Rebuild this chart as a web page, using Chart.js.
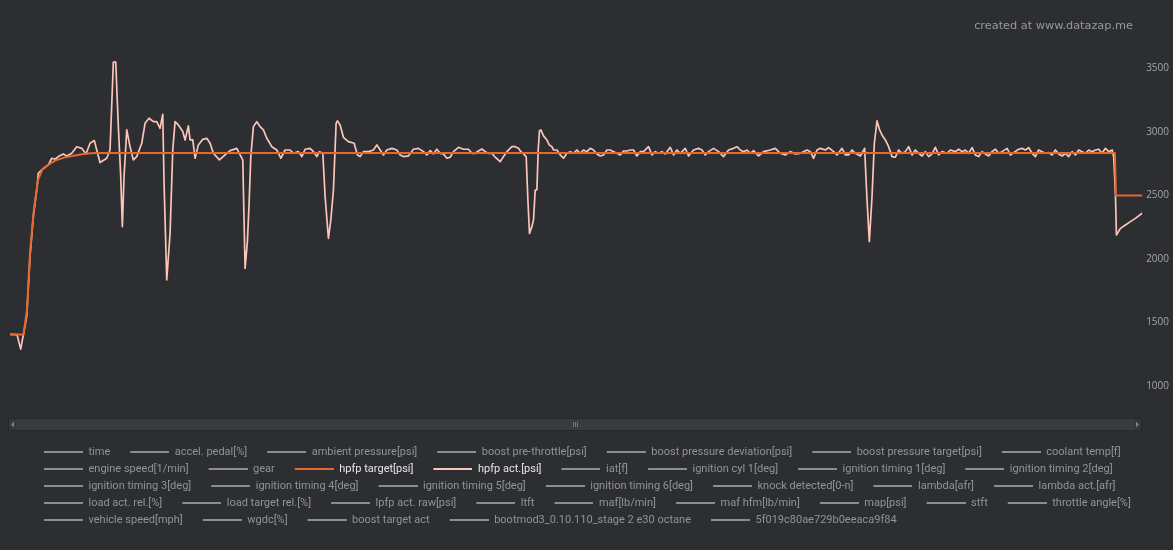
<!DOCTYPE html>
<html>
<head>
<meta charset="utf-8">
<script src="https://cdn.jsdelivr.net/npm/chart.js@4.4.1/dist/chart.umd.min.js"></script>
<style>
html,body{margin:0;padding:0;background:#2d2e32;}
canvas{display:block;}
</style>
</head>
<body>
<canvas id="c" width="1173" height="550" style="width:1173px;height:550px"></canvas>
<script>
// ---------- data ----------
const seriesNames = [
  'time','accel. pedal[%]','ambient pressure[psi]','boost pre-throttle[psi]','boost pressure deviation[psi]',
  'boost pressure target[psi]','coolant temp[f]','engine speed[1/min]','gear','hpfp target[psi]','hpfp act.[psi]',
  'iat[f]','ignition cyl 1[deg]','ignition timing 1[deg]','ignition timing 2[deg]','ignition timing 3[deg]',
  'ignition timing 4[deg]','ignition timing 5[deg]','ignition timing 6[deg]','knock detected[0-n]','lambda[afr]',
  'lambda act.[afr]','load act. rel.[%]','load target rel.[%]','lpfp act. raw[psi]','ltft','maf[lb/min]',
  'maf hfm[lb/min]','map[psi]','stft','throttle angle[%]','vehicle speed[mph]','wgdc[%]','boost target act',
  'bootmod3_0.10.110_stage 2 e30 octane','5f019c80ae729b0eeaca9f84'
];

// hpfp act. [psi] : time (s) and value
const actTime = [
  0,0.7,1.07,1.33,1.67,2.0,2.33,2.67,2.83,3.17,3.5,3.83,4.17,4.5,4.83,5.33,5.67,6.17,6.67,7.17,
  7.6,8.0,8.43,8.67,9.0,9.67,10.0,10.33,10.57,10.83,11.07,11.23,11.4,11.67,12.0,12.33,12.67,13.17,13.5,13.9,
  14.33,14.67,15.0,15.27,15.4,15.67,16.0,16.27,16.5,16.83,17.27,17.5,17.83,18.0,18.27,18.5,18.83,19.27,19.67,20.0,
  20.33,20.93,21.5,22.0,22.67,23.0,23.27,23.5,23.73,23.9,24.07,24.33,24.67,25.0,25.33,25.67,26.17,26.67,27.07,27.5,
  28.0,28.33,28.83,29.17,29.5,30.0,30.33,30.67,30.93,31.27,31.5,31.83,32.07,32.33,32.6,32.73,33.0,33.33,33.83,34.4,
  34.73,35.0,35.33,35.83,36.33,36.67,37.0,37.33,37.67,38.17,38.67,
  39.0,39.33,39.83,40.33,40.83,41.33,41.67,42.0,42.33,42.67,43.0,43.33,43.67,44.0,44.33,44.83,45.33,45.83,46.17,46.5,
  46.83,47.17,47.5,47.83,48.17,48.5,49.0,49.33,49.67,50.17,50.5,50.83,51.07,51.33,51.6,51.77,51.93,52.17,52.33,52.5,
  52.67,52.8,52.93,53.07,53.33,53.67,53.9,54.17,54.33,54.67,55.0,55.33,55.67,56.0,56.33,56.67,57.0,57.33,57.67,58.0,
  58.33,58.67,59.0,59.33,59.67,60.0,60.33,60.67,61.0,61.33,61.67,62.0,62.33,62.67,63.0,63.33,63.83,64.17,64.5,64.83,
  65.17,65.5,66.0,66.33,66.67,67.0,67.5,67.83,68.33,68.83,69.17,69.5,69.83,70.33,70.83,71.33,71.83,72.33,72.67,73.0,
  73.33,73.67,74.0,74.33,74.83,75.33,76.0,76.5,77.0,77.5,78.0,78.5,
  79.0,79.33,79.67,80.0,80.33,80.67,81.0,81.5,81.83,82.33,82.67,83.17,83.5,83.83,84.17,84.5,85.0,85.43,85.67,85.9,
  86.17,86.4,86.67,86.93,87.17,87.5,87.83,88.17,88.5,88.83,89.17,89.5,89.83,90.17,90.5,90.83,91.17,91.5,91.83,92.17,
  92.5,92.83,93.17,93.67,94.0,94.5,94.83,95.17,95.5,95.83,96.17,96.5,96.83,97.17,97.5,97.83,98.17,98.5,98.83,99.17,
  99.67,100.0,100.33,100.83,101.17,101.5,101.83,102.17,102.5,102.83,103.17,103.5,103.83,104.17,104.5,104.83,105.17,105.5,105.83,106.17,
  106.5,106.83,107.17,107.5,107.83,108.17,108.5,108.83,109.17,109.5,109.83,110.17,110.33,110.5,110.6,111.0,111.5,112.0,112.5,113.17
];
const actPsi = [
  1407,1405,1291,1402,1546,2018,2333,2543,2675,2701,2722,2740,2793,2785,2806,2827,2811,2832,2884,2871,
  2827,2911,2932,2858,2759,2793,2858,3549,3549,3042,2648,2255,2648,3016,2884,2780,2806,2911,3068,3108,
  3081,3081,3029,3139,2596,1835,2202,2858,3081,3055,3003,2937,3047,2937,2937,2793,2898,2942,2950,2911,
  2832,2780,2819,2853,2871,2819,2780,1926,2136,2438,2806,3042,3081,3042,3016,2950,2884,2858,2793,2858,
  2858,2832,2845,2806,2864,2871,2845,2806,2845,2832,2491,2163,2307,2543,3068,3087,3055,2958,2924,2911,
  2819,2806,2845,2845,2858,2898,2858,2819,2858,2871,2858,
  2819,2806,2811,2864,2871,2845,2819,2853,2827,2864,2832,2827,2793,2801,2845,2879,2864,2864,2832,2832,
  2850,2866,2845,2832,2832,2801,2766,2806,2845,2884,2884,2871,2845,2827,2806,2465,2202,2255,2307,2543,
  2543,2858,3010,3016,2969,2937,2898,2884,2858,2858,2819,2793,2832,2845,2832,2858,2832,2858,2845,2871,
  2858,2827,2811,2819,2858,2858,2845,2832,2819,2850,2850,2858,2858,2811,2845,2845,2884,2819,2845,2832,
  2845,2827,2879,2819,2858,2832,2871,2811,2858,2871,2858,2819,2845,2871,2845,2806,2858,2871,2884,2858,
  2845,2858,2832,2853,2811,2845,2858,2871,2832,2819,2845,2827,
  2832,2845,2858,2845,2793,2858,2871,2858,2877,2845,2819,2871,2819,2819,2858,2832,2811,2871,2465,2136,
  2491,2911,3087,3016,2976,2937,2884,2806,2801,2858,2832,2845,2884,2819,2858,2832,2811,2845,2806,2827,
  2879,2819,2845,2832,2858,2845,2864,2845,2858,2832,2877,2819,2806,2845,2827,2811,2845,2864,2832,2845,
  2871,2819,2837,2864,2871,2858,2877,2832,2806,2858,2845,2832,2837,2819,2858,2827,2811,2832,2806,2845,
  2819,2858,2845,2832,2858,2845,2858,2864,2832,2871,2845,2858,2806,2517,2189,2241,2268,2294,2320,2360
];

// hpfp target [psi] : time (s) and value
const targetTime = [0,1.35,1.7,2.0,2.4,2.8,3.2,3.8,4.5,5.5,6.5,7.5,8.5,110.45,110.55,113.17];
const targetPsi  = [1405,1405,1600,2050,2400,2620,2700,2740,2775,2800,2815,2828,2835,2835,2500,2500];

const yTickValues = [1000,1500,2000,2500,3000,3500];
const creditText = 'created at www.datazap.me';

// ---------- styling ----------
const LEGEND_GRAY = '#8b8d91';
const LEGEND_TEXT = '#909398';
const TARGET_COLOR = '#e4692d';
const ACT_COLOR = '#fbc5b8';

function swatch(color) {
  const c = document.createElement('canvas');
  c.width = 53; c.height = 2;
  const g = c.getContext('2d');
  g.fillStyle = color;
  g.fillRect(14, 0, 39, 2);
  return c;
}
const swatches = { gray: swatch(LEGEND_GRAY), target: swatch(TARGET_COLOR), act: swatch(ACT_COLOR) };

const toPoints = (xs, ys) => xs.map((x, i) => ({ x: x, y: ys[i] }));

const datasets = seriesNames.map(name => {
  if (name === 'hpfp target[psi]') {
    return { label: name, data: toPoints(targetTime, targetPsi), borderColor: TARGET_COLOR, borderWidth: 2, legendKey: 'target', legendText: '#e6e6e6' };
  }
  if (name === 'hpfp act.[psi]') {
    return { label: name, data: toPoints(actTime, actPsi), borderColor: ACT_COLOR, borderWidth: 1.7, legendKey: 'act', legendText: '#e6e6e6' };
  }
  return { label: name, data: [], borderColor: LEGEND_GRAY, borderWidth: 1.5, legendKey: 'gray', legendText: LEGEND_TEXT };
});

const legendOffset = { id: 'legendOffset', afterLayout(chart) { const lg = chart.legend; if (lg) { lg.left += 14; lg.right += 14; } } };

const credits = {
  id: 'credits',
  afterDraw(chart) {
    const ctx = chart.ctx;
    ctx.save();
    ctx.font = '11.3px "DejaVu Sans"';
    ctx.fillStyle = '#96989d';
    ctx.textAlign = 'right';
    ctx.textBaseline = 'middle';
    ctx.fillText(creditText, chart.width - 40, 26);
    ctx.restore();
  }
};

const scrollbar = {
  id: 'scrollbar',
  afterDraw(chart) {
    const ctx = chart.ctx, ca = chart.chartArea, xs = chart.scales.x;
    const top = Math.round(xs.top + 6), h = 13;
    const left = Math.round(ca.left) - 2, right = Math.round(ca.right);
    ctx.save();
    ctx.fillStyle = '#25272b';
    ctx.fillRect(left, top, right - left, h);
    ctx.fillStyle = '#383b40';
    ctx.fillRect(left + 1, top + 1, right - left - 2, h - 2);
    ctx.fillStyle = '#33363a';
    ctx.fillRect(left + 1, top + 1, 7, h - 2);
    ctx.fillRect(right - 8, top + 1, 7, h - 2);
    ctx.fillStyle = '#7d8085';
    ctx.beginPath(); ctx.moveTo(left + 3, top + h / 2); ctx.lineTo(left + 6, top + 3.5); ctx.lineTo(left + 6, top + h - 3.5); ctx.closePath(); ctx.fill();
    ctx.beginPath(); ctx.moveTo(right - 3, top + h / 2); ctx.lineTo(right - 6, top + 3.5); ctx.lineTo(right - 6, top + h - 3.5); ctx.closePath(); ctx.fill();
    const cx = Math.round((left + right) / 2);
    ctx.strokeStyle = '#74777c'; ctx.lineWidth = 1;
    for (let i = -1; i <= 1; i++) {
      ctx.beginPath(); ctx.moveTo(cx + i * 2 + 0.5, top + 4); ctx.lineTo(cx + i * 2 + 0.5, top + h - 4); ctx.stroke();
    }
    ctx.restore();
  }
};

Chart.defaults.font.family = 'Roboto';

new Chart(document.getElementById('c'), {
  type: 'line',
  data: { datasets: datasets },
  plugins: [legendOffset, credits, scrollbar],
  options: {
    responsive: false,
    devicePixelRatio: 1,
    animation: false,
    events: [],
    layout: { padding: { left: 10, right: 0, top: 43, bottom: 14.5 } },
    elements: {
      point: { radius: 0 },
      line: { tension: 0, borderJoinStyle: 'round', borderCapStyle: 'round', fill: false }
    },
    scales: {
      x: {
        type: 'linear', min: 0, max: 113.17,
        grid: { display: false, drawTicks: false },
        border: { display: false },
        ticks: { display: false },
        afterFit: (axis) => { axis.height = 29; }
      },
      y: {
        position: 'right', min: 800, max: 3700,
        grid: { display: false, drawTicks: false },
        border: { display: false },
        afterBuildTicks: (axis) => { axis.ticks = yTickValues.map(v => ({ value: v })); },
        ticks: {
          padding: 4,
          color: '#a3a5aa',
          font: { family: '"Open Sans"', size: 10 },
          callback: (v) => String(v)
        }
      }
    },
    plugins: {
      tooltip: { enabled: false },
      legend: {
        position: 'bottom',
        align: 'start',
        labels: {
          usePointStyle: true,
          pointStyleWidth: 53,
          padding: 6,
          font: { family: 'Roboto', size: 11 },
          generateLabels: (chart) => chart.data.datasets.map((ds, i) => ({
            text: ds.label,
            datasetIndex: i,
            hidden: false,
            pointStyle: swatches[ds.legendKey],
            fontColor: ds.legendText,
            fillStyle: 'transparent',
            strokeStyle: 'transparent',
            lineWidth: 0
          }))
        }
      }
    }
  }
});
</script>
</body>
</html>
